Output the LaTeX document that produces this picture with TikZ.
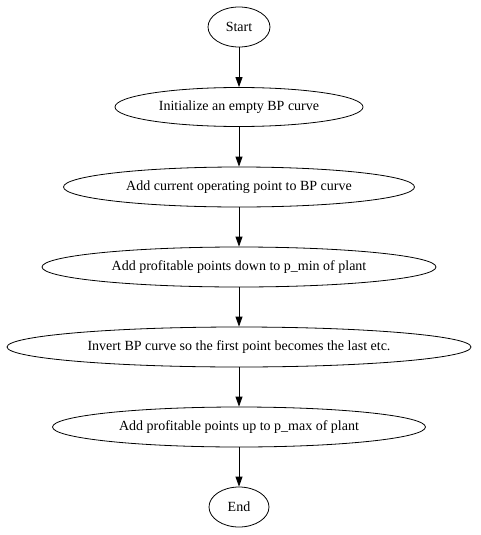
\documentclass[tikz,border=0pt]{standalone}
\usepackage{fontspec}
\setmainfont{Liberation Serif}
\usetikzlibrary{shapes.geometric,arrows.meta}
\begin{document}
\begin{tikzpicture}[x=1pt,y=-1pt,
  st/.style={ellipse,draw,line width=0.8pt,inner sep=0pt,font=\fontsize{14}{16}\selectfont},
  conn/.style={line width=0.8pt,-{Triangle[length=10pt,width=7pt]}}]
\useasboundingbox (0,0) rectangle (480,535);
\node[st,minimum width=62pt,minimum height=40pt] (start) at (239,27) {Start};
\node[st,minimum width=248pt,minimum height=39pt] (init) at (239,107) {Initialize an empty BP curve};
\node[st,minimum width=351pt,minimum height=40pt] (cur) at (239,187) {Add current operating point to BP curve};
\node[st,minimum width=394pt,minimum height=40pt] (down) at (239,267) {Add profitable points down to p\_min of plant};
\node[st,minimum width=464pt,minimum height=40pt] (inv) at (239,347) {Invert BP curve so the first point becomes the last etc.};
\node[st,minimum width=373pt,minimum height=40pt] (up) at (239,427) {Add profitable points up to p\_max of plant};
\node[st,minimum width=60pt,minimum height=40pt] (end) at (239,507) {End};
\draw[conn] (start) -- (init);
\draw[conn] (init) -- (cur);
\draw[conn] (cur) -- (down);
\draw[conn] (down) -- (inv);
\draw[conn] (inv) -- (up);
\draw[conn] (up) -- (end);
\end{tikzpicture}
\end{document}
